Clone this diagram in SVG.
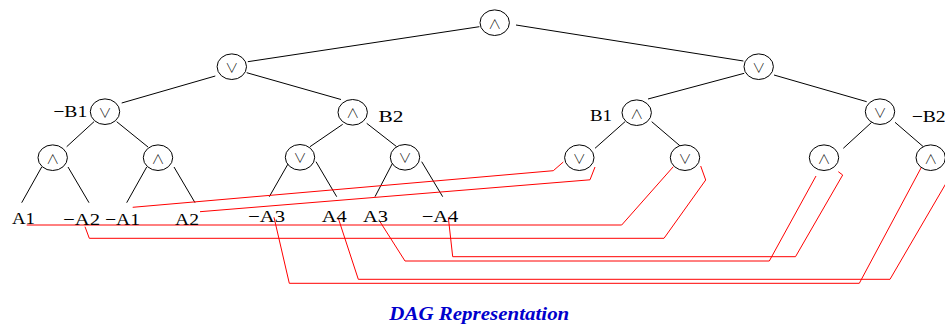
<svg xmlns="http://www.w3.org/2000/svg" width="945" height="324" viewBox="0 0 945 324">
  <style>
    .gate ellipse { fill: #ffffff; stroke: #000000; stroke-width: 1; }
    .op { font-family: "Noto Sans CJK JP", "DejaVu Sans", sans-serif; font-size: 13px; font-weight: 300; text-anchor: middle; fill: #000000; }
    .lbl { font-family: "Liberation Serif", "Times New Roman", serif; font-size: 16.5px; fill: #000000; }
    .edge { stroke: #000000; stroke-width: 1; fill: none; }
    .wire { stroke: #ff0000; stroke-width: 1; fill: none; stroke-linejoin: miter; }
    .caption { font-family: "Liberation Serif", "Times New Roman", serif; font-size: 19px; font-weight: bold; font-style: italic; fill: #0000cc; }
  </style>

  <!-- tree edges and literal wires -->
  <g id="connectors">
    <line class="edge" x1="479.4" y1="26.7" x2="247.8" y2="61.7"/>
    <line class="edge" x1="516" y1="25" x2="743.4" y2="61"/>
    <line class="edge" x1="215.3" y1="76" x2="121.7" y2="103"/>
    <line class="edge" x1="246.7" y1="72.7" x2="341" y2="99.5"/>
    <line class="edge" x1="744.2" y1="73.3" x2="648" y2="99"/>
    <line class="edge" x1="774" y1="75" x2="866.7" y2="101.7"/>

    <line class="edge" x1="94" y1="121.7" x2="66.7" y2="146.7"/>
    <line class="edge" x1="116.7" y1="121.7" x2="148" y2="147"/>
    <line class="edge" x1="342.7" y1="124.3" x2="310" y2="146.7"/>
    <line class="edge" x1="366.7" y1="123.3" x2="396.7" y2="146.7"/>
    <line class="edge" x1="625" y1="121.7" x2="595" y2="148.3"/>
    <line class="edge" x1="651.7" y1="121.7" x2="681" y2="146.7"/>
    <line class="edge" x1="871.7" y1="122.3" x2="843.3" y2="148.3"/>
    <line class="edge" x1="895" y1="122.3" x2="923.3" y2="146.7"/>

    <line class="edge" x1="41.7" y1="167" x2="21.7" y2="202.7"/>
    <line class="edge" x1="68" y1="167" x2="89" y2="202.7"/>
    <line class="edge" x1="146.7" y1="167" x2="126.7" y2="202.7"/>
    <line class="edge" x1="174" y1="167" x2="195" y2="202.7"/>
    <line class="edge" x1="289.3" y1="161.7" x2="269.3" y2="196.7"/>
    <line class="edge" x1="316" y1="161.7" x2="336.7" y2="196.7"/>
    <line class="edge" x1="393.3" y1="161.7" x2="375" y2="196.7"/>
    <line class="edge" x1="421.7" y1="161.7" x2="442.7" y2="196.7"/>

    <!-- shared literals routed to the right-hand subtrees -->
    <polyline class="wire" points="132.7,207.3 553.3,170.7 563.3,162"/>
    <polyline class="wire" points="200,211.7 590,179.8 595,167"/>
    <polyline class="wire" points="26.7,225 621.7,225 673.3,166.7"/>
    <polyline class="wire" points="85,226.7 89.3,238.3 664,238.3 705.7,180 700.7,166"/>
    <polyline class="wire" points="380,221.7 405,261 769.3,261 816,176"/>
    <polyline class="wire" points="448.3,217.3 452.7,256.7 795.5,256.7 842.7,175 838.3,171.7"/>
    <polyline class="wire" points="274,217.3 289.3,283.3 859.3,283.3 921.7,166.7"/>
    <polyline class="wire" points="338.3,218.3 358.3,279.3 890,279.3 950,176.5"/>
  </g>

  <!-- gates -->
  <g id="n0" class="gate"><ellipse cx="494.7" cy="22.7" rx="14.7" ry="12.8"/><text class="op" x="494.7" y="27.5">∧</text></g>
  <g id="n1" class="gate"><ellipse cx="231.8" cy="66.7" rx="14.7" ry="12.8"/><text class="op" x="231.8" y="71.5">∨</text></g>
  <g id="n2" class="gate"><ellipse cx="758.7" cy="66.7" rx="14.7" ry="12.8"/><text class="op" x="758.7" y="71.5">∨</text></g>

  <g id="n3" class="gate"><ellipse cx="105" cy="111.7" rx="14.7" ry="12.8"/><text class="op" x="105" y="116.5">∨</text>
    <text class="lbl" x="53.3" y="117.3" textLength="34" lengthAdjust="spacingAndGlyphs">−B1</text></g>
  <g id="n4" class="gate"><ellipse cx="352.7" cy="112.3" rx="14.7" ry="12.8"/><text class="op" x="352.7" y="117.1">∧</text>
    <text class="lbl" x="378.5" y="121.5" textLength="25" lengthAdjust="spacingAndGlyphs">B2</text></g>
  <g id="n5" class="gate"><ellipse cx="636.7" cy="112.7" rx="14.7" ry="12.8"/><text class="op" x="636.7" y="117.5">∧</text>
    <text class="lbl" x="590" y="121" textLength="22" lengthAdjust="spacingAndGlyphs">B1</text></g>
  <g id="n6" class="gate"><ellipse cx="880" cy="111.7" rx="14.7" ry="12.8"/><text class="op" x="880" y="116.5">∨</text>
    <text class="lbl" x="911.7" y="121.5" textLength="34" lengthAdjust="spacingAndGlyphs">−B2</text></g>

  <g id="n7" class="gate"><ellipse cx="52.7" cy="157.7" rx="14.7" ry="12.8"/><text class="op" x="52.7" y="162.5">∧</text></g>
  <g id="n8" class="gate"><ellipse cx="158" cy="157.7" rx="14.7" ry="12.8"/><text class="op" x="158" y="162.5">∧</text></g>
  <g id="n9" class="gate"><ellipse cx="300" cy="157.3" rx="14.7" ry="12.8"/><text class="op" x="300" y="162.1">∨</text></g>
  <g id="n10" class="gate"><ellipse cx="405" cy="157.3" rx="14.7" ry="12.8"/><text class="op" x="405" y="162.1">∨</text></g>
  <g id="n11" class="gate"><ellipse cx="579.3" cy="157.7" rx="14.7" ry="12.8"/><text class="op" x="579.3" y="162.5">∨</text></g>
  <g id="n12" class="gate"><ellipse cx="685" cy="157.7" rx="14.7" ry="12.8"/><text class="op" x="685" y="162.5">∨</text></g>
  <g id="n13" class="gate"><ellipse cx="824" cy="157.7" rx="14.7" ry="12.8"/><text class="op" x="824" y="162.5">∧</text></g>
  <g id="n14" class="gate"><ellipse cx="930.7" cy="157.7" rx="14.7" ry="12.8"/><text class="op" x="930.7" y="162.5">∧</text></g>

  <!-- literals -->
  <g id="leaf-a1"><text class="lbl" x="12" y="224" textLength="23" lengthAdjust="spacingAndGlyphs">A1</text></g>
  <g id="leaf-na2"><text class="lbl" x="63" y="224.5" textLength="37" lengthAdjust="spacingAndGlyphs">−A2</text></g>
  <g id="leaf-na1"><text class="lbl" x="105" y="224.5" textLength="35" lengthAdjust="spacingAndGlyphs">−A1</text></g>
  <g id="leaf-a2"><text class="lbl" x="175" y="225" textLength="24" lengthAdjust="spacingAndGlyphs">A2</text></g>
  <g id="leaf-na3"><text class="lbl" x="248" y="221.7" textLength="37" lengthAdjust="spacingAndGlyphs">−A3</text></g>
  <g id="leaf-a4"><text class="lbl" x="321.7" y="221.7" textLength="25" lengthAdjust="spacingAndGlyphs">A4</text></g>
  <g id="leaf-a3"><text class="lbl" x="363" y="221.7" textLength="25" lengthAdjust="spacingAndGlyphs">A3</text></g>
  <g id="leaf-na4"><text class="lbl" x="421.7" y="221.7" textLength="36.6" lengthAdjust="spacingAndGlyphs">−A4</text></g>

  <text class="caption" x="389.3" y="320" textLength="180" lengthAdjust="spacingAndGlyphs">DAG Representation</text>
</svg>
